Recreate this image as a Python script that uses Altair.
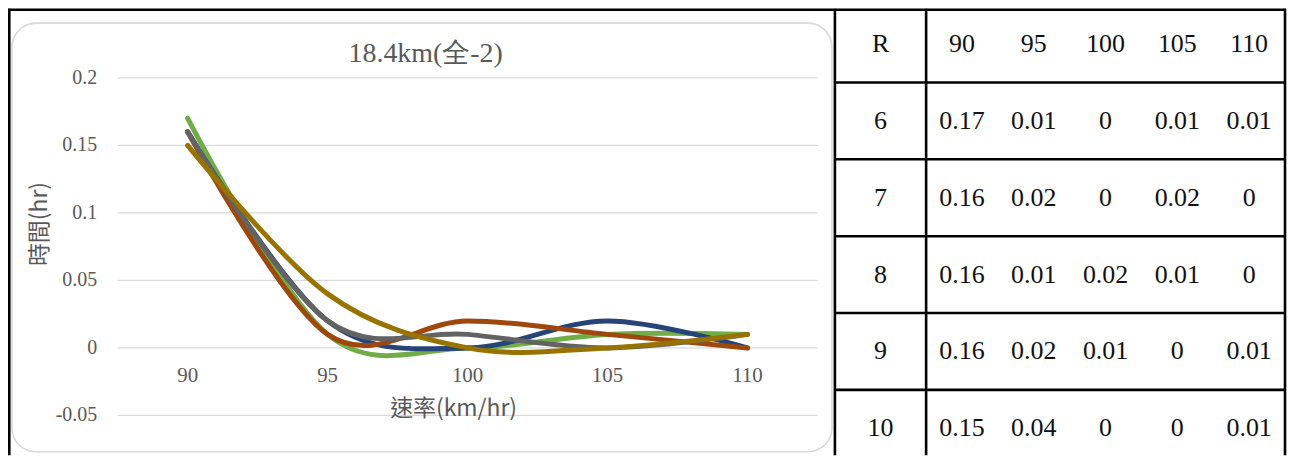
import altair as alt
import pandas as pd

# ---------------- data ----------------
speeds = ["90", "95", "100", "105", "110"]
r_values = ["6", "7", "8", "9", "10"]
series_6 = [0.17, 0.01, 0, 0.01, 0.01]
series_7 = [0.16, 0.02, 0, 0.02, 0]
series_8 = [0.16, 0.01, 0.02, 0.01, 0]
series_9 = [0.16, 0.02, 0.01, 0, 0.01]
series_10 = [0.15, 0.04, 0, 0, 0.01]
series_list = [series_6, series_7, series_8, series_9, series_10]
colors = ["#70AD47", "#264478", "#9E480E", "#636363", "#997300"]
y_ticks = [-0.05, 0, 0.05, 0.1, 0.15, 0.2]
y_tick_labels = ["-0.05", "0", "0.05", "0.1", "0.15", "0.2"]
chart_title = "18.4km(全-2)"
x_title = "速率(km/hr)"
y_title = "時間(hr)"
table_header = "R"

# ---------------- tables ----------------
line_df = pd.DataFrame(
    [
        {"speed": s, "value": v, "R": r, "order": i}
        for r, vals in zip(r_values, series_list)
        for i, (s, v) in enumerate(zip(speeds, vals))
    ]
)
ytick_df = pd.DataFrame({"v": y_ticks, "lab": y_tick_labels})
xlab_df = pd.DataFrame({"speed": speeds})

row_keys = [table_header] + r_values
cells = [{"row": table_header, "col": s, "txt": s} for s in speeds]
for r, vals in zip(r_values, series_list):
    for s, v in zip(speeds, vals):
        cells.append({"row": r, "col": s, "txt": f"{v:g}"})
cell_df = pd.DataFrame(cells)
rlab_df = pd.DataFrame({"row": row_keys})
rowline_df = pd.DataFrame({"row": r_values})

one = alt.Data(values=[{}])

# ---------------- scales ----------------
xscale = alt.Scale(type="point", domain=speeds, range=[110, 812], padding=0.5)
yscale = alt.Scale(domain=[-0.05, 0.2], range=[408, 69.3], nice=False, zero=False)
rowscale = alt.Scale(type="band", domain=row_keys, range=[-3.1, 459.5],
                     paddingInner=0, paddingOuter=0)
colscale = alt.Scale(type="band", domain=speeds, range=[921, 1281],
                     paddingInner=0, paddingOuter=0)

GRAY = "#595959"
SERIF = "'Liberation Serif', 'Times New Roman', serif"
CJK = "'Noto Sans CJK TC', 'Noto Sans CJK SC', sans-serif"

frame = alt.Chart(one).mark_rect(
    cornerRadius=24, fill="white", stroke="#D9D9D9", strokeWidth=1.6
).encode(x=alt.value(4), x2=alt.value(826.5), y=alt.value(14.5), y2=alt.value(444.5))

grid = alt.Chart(ytick_df).mark_rule(color="#D9D9D9", strokeWidth=1.3).encode(
    y=alt.Y("v:Q", scale=yscale, axis=None),
    x=alt.value(110),
    x2=alt.value(812),
)

ylabels = alt.Chart(ytick_df).mark_text(
    align="right", baseline="middle", font=SERIF, fontSize=20, color=GRAY
).encode(
    y=alt.Y("v:Q", scale=yscale, axis=None),
    x=alt.value(89.5),
    text="lab:N",
)

xlabels = alt.Chart(xlab_df).mark_text(
    align="center", baseline="middle", font=SERIF, fontSize=21, color=GRAY, dy=28
).encode(
    x=alt.X("speed:N", scale=xscale, axis=None),
    y=alt.YDatum(0, type="quantitative", scale=yscale, axis=None),
    text="speed:N",
)

lines = alt.Chart(line_df).mark_line(
    interpolate="cardinal", strokeWidth=5, strokeCap="round", strokeJoin="round"
).encode(
    x=alt.X("speed:N", scale=xscale, axis=None),
    y=alt.Y("value:Q", scale=yscale, axis=None),
    color=alt.Color("R:N", scale=alt.Scale(domain=r_values, range=colors), legend=None),
    order="order:Q",
)

title = alt.Chart(alt.Data(values=[{"t": chart_title}])).mark_text(
    align="center", baseline="alphabetic", font=SERIF, fontSize=28, color=GRAY
).encode(x=alt.value(419), y=alt.value(53), text="t:N")

xtitle = alt.Chart(alt.Data(values=[{"t": x_title}])).mark_text(
    align="center", baseline="middle", font=CJK, fontSize=23, color=GRAY
).encode(x=alt.value(447), y=alt.value(402), text="t:N")

ytitle = alt.Chart(alt.Data(values=[{"t": y_title}])).mark_text(
    align="center", baseline="middle", font=CJK, fontSize=23,
    color=GRAY, angle=270
).encode(x=alt.value(32), y=alt.value(216), text="t:N")

# ---------------- table ----------------
LINE = dict(color="#000000", strokeWidth=2.6)

cell_text = alt.Chart(cell_df).mark_text(
    align="center", baseline="middle", font=SERIF, fontSize=26, color="#111111"
).encode(
    x=alt.X("col:N", scale=colscale, axis=None),
    y=alt.Y("row:N", scale=rowscale, axis=None),
    text="txt:N",
)

r_text = alt.Chart(rlab_df).mark_text(
    align="center", baseline="middle", font=SERIF, fontSize=26, color="#111111"
).encode(
    x=alt.value(875.25),
    y=alt.Y("row:N", scale=rowscale, axis=None),
    text="row:N",
)

row_lines = alt.Chart(rowline_df).mark_rule(**LINE).encode(
    y=alt.Y("row:N", scale=rowscale, axis=None, bandPosition=0),
    x=alt.value(829.5),
    x2=alt.value(1281),
)

top_line = alt.Chart(one).mark_rule(**LINE).encode(
    y=alt.value(1), x=alt.value(0), x2=alt.value(1282)
)
vlines = [
    alt.Chart(one).mark_rule(**LINE).encode(x=alt.value(px), y=alt.value(0), y2=alt.value(448))
    for px in (1.3, 829.5, 921, 1281)
]

chart = (
    alt.layer(
        frame, grid, ylabels, xlabels, lines, title, xtitle, ytitle,
        cell_text, r_text, row_lines, top_line, *vlines
    )
    .resolve_scale(x="independent", y="independent", color="independent")
    .properties(width=1283, height=448, autosize=alt.AutoSizeParams(type="none"), padding=0)
    .configure_view(stroke=None)
)

chart.save("out.html", embed_options={"renderer": "svg", "actions": False})
